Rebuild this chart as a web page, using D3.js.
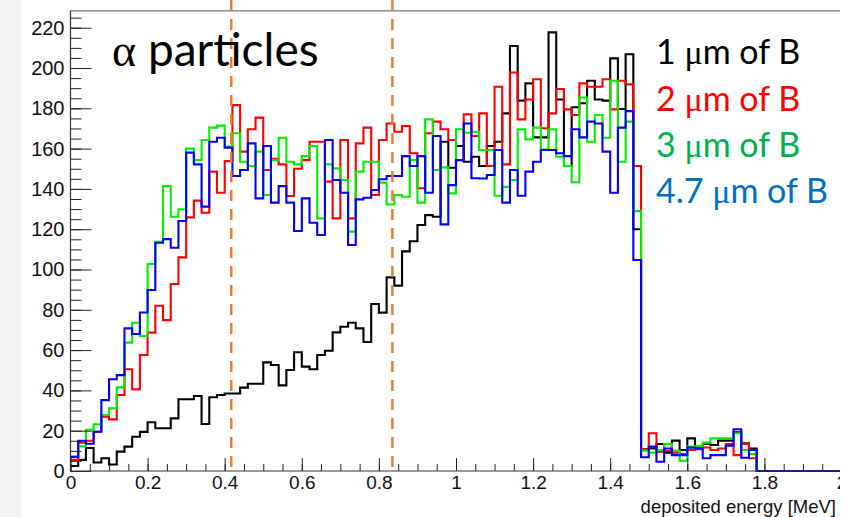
<!DOCTYPE html>
<html><head><meta charset="utf-8">
<script src="https://cdn.jsdelivr.net/npm/d3@7"></script>
<style>
html,body{margin:0;padding:0;background:#fff;}
svg{display:block;}
</style></head>
<body>
<svg id="c" width="856" height="517"></svg>
<script>
// ---- data (deposited energy histograms, bin width 0.02 MeV, 0 - 2 MeV) ----
const binWidth = 0.02;
const seriesNames = ["1 \u03bcm of B", "2 \u03bcm of B", "3 \u03bcm of B", "4.7 \u03bcm of B"];
const black1um = [2.5,5.5,11.4,4.2,6.3,3.2,9.6,12.1,17,19.4,24.2,21.2,21.2,26.1,35.6,35.6,37.2,23.3,36.6,37.7,
 38.5,38.5,41.4,43.3,43.3,53.9,52.6,42.5,50.1,58.9,51.8,50.5,57.6,59.7,68.8,71.6,73.6,70.8,64,82.9,
 78.6,96.1,92,109,114,122.1,127,126.2,163.4,150.5,161.3,153.5,156,151.4,161.3,163.4,177.5,210.9,183.8,192.4,
 165.6,165.6,217.7,184.4,151.4,180.5,182.5,193.7,184.4,183.8,204.8,179.7,206.8,120,10.8,11.2,13.4,9.1,15.1,10.4,
 16.2,12.1,13.4,12.9,15.1,15.1,19.2,13.7,11.2,0,0,0,0,0,0,0,0,0,0,0];
const red2um = [5.5,14,15,19.5,27,25.6,37.7,50.5,40.5,57.6,68.7,82,74.9,92.8,106,125.9,134.2,128.2,148.6,138.1,
 153.8,181.6,158.5,169.6,175.4,149.4,155,152.2,136.5,150,154.3,163.4,163.4,143.6,125.4,164.3,125.4,162.6,170.4,137,
 164.3,172.5,168.4,171.2,157.7,140.3,167.6,173.4,169.6,164.3,154.3,177,166.3,177.5,151.4,190.7,152.2,197.8,174.5,184.4,
 194.4,170.1,177.5,189.6,179.5,176.7,192.4,190.7,190.7,194.4,179.5,193.7,191.9,151.4,10.8,18.7,9.6,9.9,9.1,8.4,
 10.4,10.8,11.7,10.4,11.2,13.4,7.9,13.4,6.3,0,0,0,0,0,0,0,0,0,0,0];
const green3um = [7.1,12.2,20.5,23.2,27.8,31.1,41.5,63.7,73.6,67,102.7,113.8,141.4,126.2,129.9,160,154.3,164.3,170.4,171.4,
 161,167.6,153.5,151.4,158.5,137,154.3,165.4,153.5,152.2,156.3,161.3,125.4,152.2,150.2,144.4,118.8,148.6,153.5,153.5,
 143.1,132.3,137,136.1,154.3,133.2,174.5,149.4,150.7,137.8,169.6,167.9,168.4,159.3,159.3,136.6,141,144.4,169.6,164.6,
 170.4,159.6,169.6,156,151.4,143.3,185.4,163.4,176.7,165.4,193.7,153.5,173.4,129,10.1,9.1,10.4,13.4,10.1,5.1,
 12.1,12.4,14.1,16.2,16.2,16.2,18.7,10.4,8.4,0,0,0,0,0,0,0,0,0,0,0];
const blue47um = [7,15,13.5,19.5,35.2,45.5,47.6,70.8,68,78.7,89.8,113.3,115.1,110.8,124.1,158,152.2,131.2,163.4,165.4,
 160.5,146.4,149.4,162.6,135.3,161.3,133.2,141.4,133.2,119.1,135.3,123.2,117.1,164.3,144.4,138.1,112.2,134.8,135.6,139.5,
 144.8,146.4,146.4,156.3,151.4,156.3,138.1,166.3,122.4,141.9,154.3,172.5,145.3,145.2,146.9,159.3,133.2,149.4,136.6,148.6,
 153.5,159.3,159.3,157.7,156.3,169.6,165.6,173.4,172.5,158.5,138.1,170.4,178.6,104.7,6.8,12.1,4.6,11.2,7.9,7.9,
 11.6,11.2,6.3,7.9,7.9,12.6,20.7,6.6,10.4,0,0,0,0,0,0,0,0,0,0,0];
const cutEnergies = [0.417, 0.835];
const yTickValues = [0,20,40,60,80,100,120,140,160,180,200,220];
const xTickValues = [0,0.2,0.4,0.6,0.8,1,1.2,1.4,1.6,1.8,2];
const xTickLabels = ["0","0.2","0.4","0.6","0.8","1","1.2","1.4","1.6","1.8","2"];
const lineColors = ["#000000","#ff0000","#00ee00","#0000ff"];
const textColors = ["#000000","#ff0000","#00b050","#0070c0"];

// ---- layout ----
const svg = d3.select("#c");
const x = d3.scaleLinear().domain([0, 2]).range([70.5, 841.5]);
const y = d3.scaleLinear().domain([0, 228.6]).range([471, 10.4]);

svg.append("rect").attr("x",0).attr("y",0).attr("width",856).attr("height",517).attr("fill","#ffffff");
svg.append("rect").attr("x",0).attr("y",0).attr("width",21).attr("height",517).attr("fill","#f2f2f2");

// histograms
const allSeries = [black1um, red2um, green3um, blue47um];
const line = d3.line().x(d => x(d[0])).y(d => y(d[1])).curve(d3.curveStepAfter);
const gH = svg.append("g");
allSeries.forEach((vals, k) => {
  const pts = vals.map((v, i) => [i * binWidth, v]);
  pts.push([vals.length * binWidth, vals[vals.length - 1]]);
  gH.append("path").attr("d", line(pts)).attr("fill","none")
    .attr("stroke", lineColors[k]).attr("stroke-width", 2.1).attr("stroke-linejoin","miter");
});

// frame
svg.append("line").attr("x1",x(0)).attr("x2",x(2)).attr("y1",y(228.6)+0.5).attr("y2",y(228.6)+0.5)
  .attr("stroke","#555").attr("stroke-width",1);

// y axis
const yMinor = d3.range(0, 229, 5);
const yAxisMinor = d3.axisLeft(y).tickValues(yMinor).tickSize(-11).tickFormat("");
const yAxis = d3.axisLeft(y).tickValues(yTickValues).tickSize(-21).tickPadding(6).tickFormat(d3.format("d"));
const gyMinor = svg.append("g").attr("transform",`translate(${x(0)},0)`).call(yAxisMinor);
const gy = svg.append("g").attr("transform",`translate(${x(0)},0)`).call(yAxis);
[gyMinor, gy].forEach(g => { g.select(".domain").remove(); g.selectAll("line").attr("stroke","#222"); });
gy.selectAll("text").attr("font-family","'Liberation Sans', Arial, sans-serif").attr("font-size",20).attr("fill","#111");
svg.append("line").attr("x1",x(0)).attr("x2",x(0)).attr("y1",y(228.6)).attr("y2",y(0)).attr("stroke","#333").attr("stroke-width",1.2);

// x axis
const xMinor = d3.range(0, 41).map(i => i * 0.05);
const xAxisMinor = d3.axisBottom(x).tickValues(xMinor).tickSize(-7).tickFormat("");
const xAxis = d3.axisBottom(x).tickValues(xTickValues).tickSize(-13).tickPadding(5)
  .tickFormat((d, i) => xTickLabels[i]);
const gxMinor = svg.append("g").attr("transform",`translate(0,${y(0)})`).call(xAxisMinor);
const gx = svg.append("g").attr("transform",`translate(0,${y(0)})`).call(xAxis);
[gxMinor, gx].forEach(g => { g.select(".domain").remove(); g.selectAll("line").attr("stroke","#222"); });
gx.selectAll("text").attr("font-family","'Liberation Sans', Arial, sans-serif").attr("font-size",19).attr("fill","#111");
svg.append("line").attr("x1",x(0)).attr("x2",x(2)).attr("y1",y(0)).attr("y2",y(0)).attr("stroke","#333").attr("stroke-width",1.2);

svg.append("text").attr("x",836).attr("y",513).attr("text-anchor","end")
  .attr("font-family","'Liberation Sans', Arial, sans-serif").attr("font-size",18.5).attr("fill","#111")
  .text("deposited energy [MeV]");

// dashed cut lines
cutEnergies.forEach(e => {
  svg.append("line").attr("x1",x(e)).attr("x2",x(e)).attr("y1",0).attr("y2",y(0))
    .attr("stroke","#ed7d31").attr("stroke-width",2.5).attr("stroke-dasharray","11,8");
});

// clip right edge
svg.append("rect").attr("x",840).attr("y",0).attr("width",16).attr("height",517).attr("fill","#ffffff");

// title
const t = svg.append("text").attr("x",112).attr("y",66).attr("font-family","Lato, 'Open Sans', sans-serif")
  .attr("font-size",46).attr("fill","#000");
t.append("tspan").attr("font-family","'Liberation Serif', 'DejaVu Serif', serif").text("\u03b1");
t.append("tspan").text(" particles");

// legend texts
const legendY = [64, 111, 157, 203];
seriesNames.forEach((s, k) => {
  const parts = s.split("\u03bc");
  const lt = svg.append("text").attr("x",656).attr("y",legendY[k])
    .attr("font-family","Lato, 'Open Sans', sans-serif").attr("font-size",34).attr("fill",textColors[k]);
  lt.append("tspan").text(parts[0]);
  lt.append("tspan").attr("font-family","'Liberation Serif', 'DejaVu Serif', serif").text("\u03bc");
  lt.append("tspan").text(parts[1]);
});
</script>
</body></html>
